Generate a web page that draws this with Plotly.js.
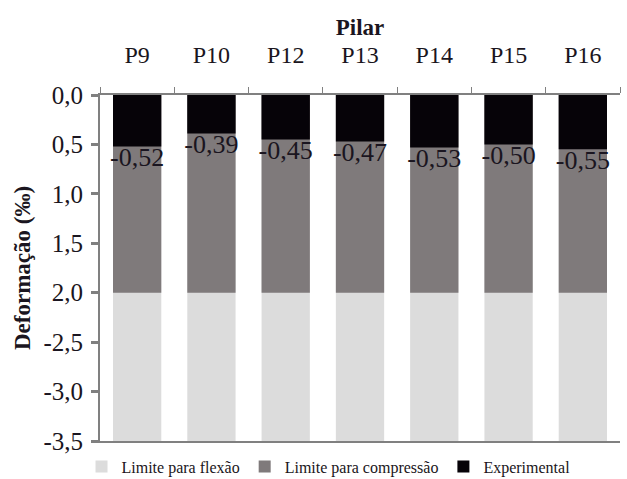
<!DOCTYPE html>
<html>
<head>
<meta charset="utf-8">
<script src="https://cdn.plot.ly/plotly-3.0.1.min.js"></script>
</head>
<body style="margin:0;background:#fff">
<div id="chart"></div>
<script>
// Pilares ensaiados e deformações (‰)
const pilares = ['P9', 'P10', 'P12', 'P13', 'P14', 'P15', 'P16'];
const experimental = [-0.52, -0.39, -0.45, -0.47, -0.53, -0.50, -0.55];
const limiteCompressao = [-2.0, -2.0, -2.0, -2.0, -2.0, -2.0, -2.0];
const limiteFlexao = [-3.5, -3.5, -3.5, -3.5, -3.5, -3.5, -3.5];

const yTickVals = [0, -0.5, -1.0, -1.5, -2.0, -2.5, -3.0, -3.5];
const yTickText = ['0,0', '0,5', '1,0', '1,5', '2,0', '-2,5', '-3,0', '-3,5'];

const FAMILIA = 'Liberation Serif';
const TINTA = '#1a1520';

const fmt = v => v.toFixed(2).replace('.', ',');

const traces = [
  {
    type: 'bar', name: 'Limite para flexão',
    x: pilares, y: limiteFlexao,
    marker: { color: '#dcdcdc' },
    hoverinfo: 'skip'
  },
  {
    type: 'bar', name: 'Limite para compressão',
    x: pilares, y: limiteCompressao,
    marker: { color: '#7f7a7b' },
    hoverinfo: 'skip'
  },
  {
    type: 'bar', name: 'Experimental',
    x: pilares, y: experimental,
    marker: { color: '#060308' },
    hoverinfo: 'skip'
  },
  {
    type: 'scatter', mode: 'text', showlegend: false,
    x: pilares, y: experimental,
    text: experimental.map(fmt),
    textposition: 'bottom center',
    textfont: { family: FAMILIA, size: 26, color: TINTA },
    hoverinfo: 'skip', cliponaxis: false
  }
];

const layout = {
  width: 627, height: 479,
  margin: { l: 100, r: 7, t: 95, b: 38, autoexpand: false },
  paper_bgcolor: '#fff', plot_bgcolor: '#fff',
  barmode: 'overlay',
  bargap: 0.35,
  font: { family: FAMILIA, color: TINTA },
  showlegend: true,
  legend: {
    orientation: 'h',
    xref: 'container', yref: 'container',
    x: 0.13, xanchor: 'left',
    y: 0.026, yanchor: 'middle',
    font: { family: FAMILIA, size: 16, color: TINTA },
    itemwidth: 30,
    tracegroupgap: 0
  },
  xaxis: {
    side: 'top',
    type: 'category',
    title: { text: '<b>Pilar</b>', font: { family: FAMILIA, size: 23, color: TINTA }, standoff: 0 },
    tickfont: { family: FAMILIA, size: 24, color: TINTA },
    ticklabelstandoff: 20,
    showline: true, mirror: true, linecolor: '#808080', linewidth: 2,
    ticks: 'outside', tickson: 'boundaries', ticklen: 6, tickcolor: '#808080', tickwidth: 1,
    showgrid: false, zeroline: false, fixedrange: true
  },
  yaxis: {
    range: [-3.5, 0],
    tickvals: yTickVals, ticktext: yTickText,
    tickfont: { family: FAMILIA, size: 25, color: TINTA },
    ticklabelstandoff: 3,
    title: { text: '<b>Deformação (‰)</b>', font: { family: FAMILIA, size: 23, color: TINTA }, standoff: 6 },
    showline: true, linecolor: '#808080', linewidth: 2,
    ticks: 'outside', ticklen: 7, tickcolor: '#808080', tickwidth: 3,
    showgrid: false, zeroline: false, fixedrange: true
  }
};

Plotly.newPlot('chart', traces, layout, { displayModeBar: false });
</script>
</body>
</html>
